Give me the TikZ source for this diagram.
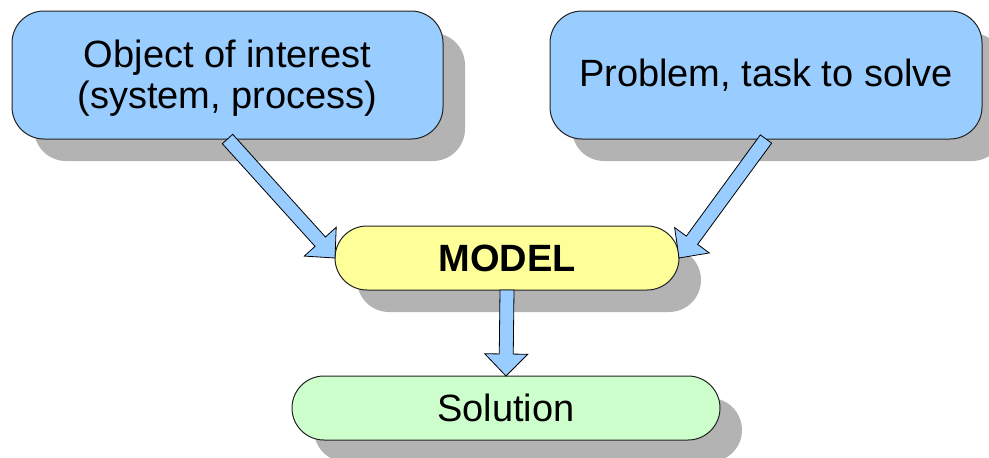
\documentclass[tikz,border=0pt]{standalone}
\usepackage{fontspec}
\setmainfont{Liberation Sans}
\usetikzlibrary{calc,shadows}

\definecolor{boxblue}{HTML}{99CCFF}
\definecolor{boxyellow}{HTML}{FFFF99}
\definecolor{boxgreen}{HTML}{CCFFCC}
\definecolor{shadowgray}{HTML}{B3B3B3}
\definecolor{edgegray}{HTML}{222222}

\tikzset{
  box/.style={draw=edgegray, line width=1pt, rounded corners=32pt,
    inner sep=0pt, outer sep=0pt, align=center,
    font=\fontsize{38}{41}\selectfont,
    drop shadow={shadow xshift=22pt, shadow yshift=-22pt,
      fill=shadowgray, opacity=1}},
  bluebox/.style={box, fill=boxblue, minimum width=431pt, minimum height=128pt},
  modelbox/.style={box, fill=boxyellow, minimum width=344pt, minimum height=64pt},
  solbox/.style={box, fill=boxgreen, minimum width=428pt, minimum height=64pt},
  blockarrow/.style={draw=black, line width=0.8pt, fill=boxblue, line join=miter},
}

% wide hollow arrow from #1 to #2: shaft 14pt, head 43pt wide and 22pt long
\newcommand\blockarrow[2]{%
  \coordinate (ah) at ($(#2)!22pt!(#1)$);
  \draw[blockarrow]
    ($(#1)!7pt!90:(#2)$) -- ($(ah)!7pt!90:(#2)$) -- ($(ah)!21.5pt!90:(#2)$)
    -- (#2)
    -- ($(ah)!21.5pt!-90:(#2)$) -- ($(ah)!7pt!-90:(#2)$) -- ($(#1)!7pt!-90:(#2)$)
    -- cycle;
}

\begin{document}
\begin{tikzpicture}[x=1pt, y=-1pt]
  \useasboundingbox (0,0) rectangle (989,458);
  \clip (0,0) rectangle (989,458);

  \node[bluebox] (obj) at (227.5,75)
    {\rule{0pt}{33pt}Object of interest\\(system, process)};
  \node[bluebox, minimum width=432pt] (prob) at (766,75) {Problem, task to solve};
  \node[modelbox] (model) at (507,258) {\bfseries MODEL};
  \node[solbox] (sol) at (506,408) {Solution};

  \blockarrow{obj.south}{model.west}
  \blockarrow{prob.south}{model.east}
  \blockarrow{model.south}{sol.north}
\end{tikzpicture}
\end{document}
